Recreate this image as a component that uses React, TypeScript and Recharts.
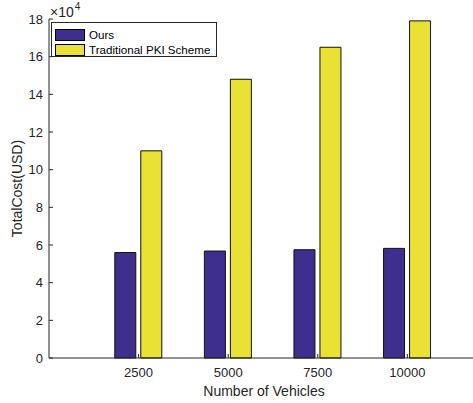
import React from "react";
import { BarChart, Bar, XAxis, YAxis, Legend, Label } from "recharts";

const categories = [2500, 5000, 7500, 10000];
const oursValues = [56000, 56800, 57500, 58200];
const pkiValues = [110000, 148000, 165000, 179000];
const yTicks = [0, 20000, 40000, 60000, 80000, 100000, 120000, 140000, 160000, 180000];
const seriesNames = ["Ours", "Traditional PKI Scheme"];

const data = categories.map((c, i) => ({ x: c, ours: oursValues[i], pki: pkiValues[i] }));

const AX = "#262626";
const TXT = "#262626";
const FONT = "'Liberation Sans', Arial, Helvetica, sans-serif";
const BLUE = "#3e2f8e";
const YELLOW = "#e9e134";

const YTick = (props: any) => {
  const { x, y, payload } = props;
  return (
    <g>
      <line x1={x} x2={x + 4} y1={y} y2={y} stroke={AX} strokeWidth={1} />
      <text x={x - 6} y={y} dy={4.6} textAnchor="end" fontSize={13} fill={TXT} fontFamily={FONT}>
        {payload.value / 10000}
      </text>
    </g>
  );
};

const XTick = (props: any) => {
  const { x, y, payload } = props;
  return (
    <g>
      <line x1={x} x2={x} y1={y} y2={y - 4} stroke={AX} strokeWidth={1} />
      <text x={x} y={y + 19} textAnchor="middle" fontSize={13} fill={TXT} fontFamily={FONT}>
        {payload.value}
      </text>
    </g>
  );
};

const TopTick = (props: any) => {
  const { x, y } = props;
  return <line x1={x} x2={x} y1={y} y2={y + 4} stroke={AX} strokeWidth={1} />;
};

const LegendBox = () => (
  <div
    style={{
      border: `1px solid ${AX}`,
      background: "#fff",
      width: 164,
      height: 33,
      boxSizing: "content-box",
      fontFamily: FONT,
      fontSize: 11.6,
      color: "#000",
    }}
  >
    {[BLUE, YELLOW].map((c, i) => (
      <div key={i} style={{ display: "flex", alignItems: "center", height: 15, marginTop: i === 0 ? 4 : 0, marginLeft: 3 }}>
        <div style={{ width: 28, height: 10, background: c, border: "1px solid #000", marginRight: 4 }} />
        <span style={{ whiteSpace: "nowrap" }}>{seriesNames[i]}</span>
      </div>
    ))}
  </div>
);

export default function App() {
  return (
    <div style={{ position: "absolute", left: 0, top: 0, width: 473, height: 403, overflow: "hidden", background: "#fff" }}>
      <BarChart
        width={492}
        height={403}
        data={data}
        margin={{ top: 19, right: 13, bottom: 0, left: 0 }}
        barSize={21}
        barGap={5}
      >
        <XAxis
          dataKey="x"
          type="number"
          domain={[0, 12000]}
          ticks={categories}
          allowDataOverflow
          height={45}
          tickSize={0}
          tickMargin={0}
          tickLine={false}
          axisLine={{ stroke: AX, strokeWidth: 1 }}
          tick={<XTick />}
          interval={0}
        >
          <Label
            content={(p: any) => {
              const vb = p.viewBox;
              return (
                <text x={vb.x + vb.width / 2} y={vb.y + 38} textAnchor="middle" fontSize={14} fill={TXT} fontFamily={FONT}>
                  Number of Vehicles
                </text>
              );
            }}
          />
        </XAxis>
        <XAxis
          xAxisId="top"
          orientation="top"
          dataKey="x"
          type="number"
          domain={[0, 12000]}
          ticks={categories}
          allowDataOverflow
          height={0}
          tickSize={0}
          tickMargin={0}
          tickLine={false}
          axisLine={{ stroke: AX, strokeWidth: 1 }}
          tick={<TopTick />}
          interval={0}
        />
        <YAxis
          type="number"
          domain={[0, 180000]}
          ticks={yTicks}
          width={49}
          tickSize={0}
          tickMargin={0}
          tickLine={false}
          axisLine={{ stroke: AX, strokeWidth: 1 }}
          tick={<YTick />}
          interval={0}
        >
          <Label
            content={(p: any) => {
              const vb = p.viewBox;
              const cx = vb.x + 17;
              const cy = vb.y + vb.height / 2;
              return (
                <text x={cx} y={cy} transform={`rotate(-90 ${cx} ${cy})`} dy={5} textAnchor="middle" fontSize={14} fill={TXT} fontFamily={FONT}>
                  TotalCost(USD)
                </text>
              );
            }}
          />
          <Label
            content={(p: any) => {
              const vb = p.viewBox;
              return (
                <text x={vb.x + vb.width + 1} y={vb.y - 2} fontSize={14} fill={TXT} fontFamily={FONT}>
                  <tspan>×10</tspan>
                  <tspan fontSize={10} dx={1} dy={-7}>4</tspan>
                </text>
              );
            }}
          />
        </YAxis>
        <Legend
          layout="vertical"
          align="center"
          verticalAlign="middle"
          wrapperStyle={{ left: 51, top: 22, width: 166, height: 35 }}
          content={<LegendBox />}
        />
        <Bar dataKey="ours" name={seriesNames[0]} fill={BLUE} stroke="#111" strokeWidth={1} isAnimationActive={false} />
        <Bar dataKey="pki" name={seriesNames[1]} fill={YELLOW} stroke="#111" strokeWidth={1} isAnimationActive={false} />
      </BarChart>
    </div>
  );
}
